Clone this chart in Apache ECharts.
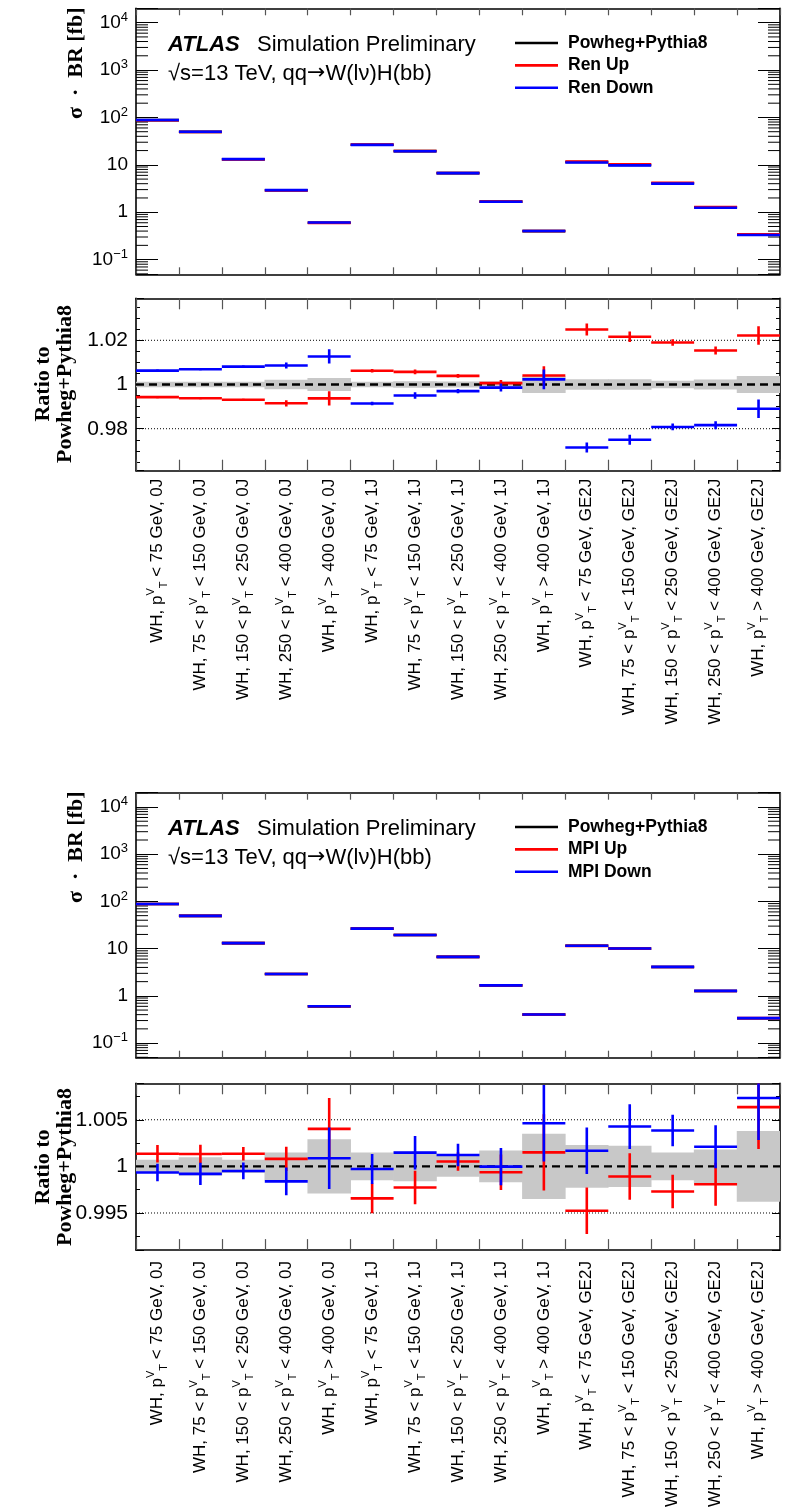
<!DOCTYPE html>
<html><head><meta charset="utf-8">
<script src="https://cdn.jsdelivr.net/npm/echarts@6/dist/echarts.min.js"></script>
<style>html,body{margin:0;padding:0;background:#fff}#c{width:792px;height:1510px}</style>
</head><body><div id="c"></div><script>
// ---------------- data ----------------
const categories = [
  'WH, p_T^V < 75 GeV, 0J', 'WH, 75 < p_T^V < 150 GeV, 0J', 'WH, 150 < p_T^V < 250 GeV, 0J', 'WH, 250 < p_T^V < 400 GeV, 0J', 'WH, p_T^V > 400 GeV, 0J',
  'WH, p_T^V < 75 GeV, 1J', 'WH, 75 < p_T^V < 150 GeV, 1J', 'WH, 150 < p_T^V < 250 GeV, 1J', 'WH, 250 < p_T^V < 400 GeV, 1J', 'WH, p_T^V > 400 GeV, 1J',
  'WH, p_T^V < 75 GeV, GE2J', 'WH, 75 < p_T^V < 150 GeV, GE2J', 'WH, 150 < p_T^V < 250 GeV, GE2J', 'WH, 250 < p_T^V < 400 GeV, GE2J', 'WH, p_T^V > 400 GeV, GE2J'
];
// nominal sigma x BR [fb]
const nominal = [88, 49.5, 13.1, 2.9, 0.6, 26.6, 19.5, 6.7, 1.67, 0.4, 11.5, 10.0, 4.1, 1.27, 0.335];

// panel 1: renormalisation scale variations (ratio to nominal)
const renUpRatio   = [0.9943, 0.9938, 0.9931, 0.9915, 0.9937, 1.0062, 1.0057, 1.0039, 1.0006, 1.0041, 1.0249, 1.0216, 1.0190, 1.0154, 1.0222];
const renUpErr     = [0.0005, 0.0005, 0.0004, 0.0014, 0.0032, 0.0008, 0.0011, 0.0008, 0.0014, 0.0042, 0.0027, 0.0024, 0.0015, 0.0018, 0.0042];
const renDownRatio = [1.0063, 1.0069, 1.0081, 1.0086, 1.0127, 0.9914, 0.9950, 0.9970, 0.9986, 1.0023, 0.9715, 0.9750, 0.9808, 0.9816, 0.9890];
const renDownErr   = [0.0005, 0.0005, 0.0005, 0.0014, 0.0032, 0.0008, 0.0015, 0.0010, 0.0018, 0.0045, 0.0023, 0.0023, 0.0015, 0.0018, 0.0042];
const nomStat1     = [0.0012, 0.0012, 0.0012, 0.0021, 0.0029, 0.0012, 0.0015, 0.0014, 0.0015, 0.0038, 0.0024, 0.0024, 0.0017, 0.0023, 0.0039];

// panel 2: MPI variations (ratio to nominal)
const mpiUpRatio   = [1.00136, 1.00133, 1.00136, 1.0008, 1.00402, 0.99657, 0.99773, 1.00052, 0.99937, 1.0015, 0.99524, 0.99892, 0.99731, 0.99808, 1.00636];
const mpiUpErr     = [0.00094, 0.0010, 0.00073, 0.0013, 0.0033, 0.0016, 0.0018, 0.0010, 0.0019, 0.0041, 0.0025, 0.0025, 0.0018, 0.0023, 0.0045];
const mpiDownRatio = [0.99934, 0.9992, 0.99951, 0.99839, 1.00087, 0.99972, 1.00147, 1.00122, 0.99997, 1.00462, 1.00168, 1.00427, 1.00385, 1.0021, 1.00734];
const mpiDownErr   = [0.00093, 0.0012, 0.0009, 0.0015, 0.0033, 0.0016, 0.0018, 0.0012, 0.0020, 0.0041, 0.0025, 0.0024, 0.0017, 0.0023, 0.0045];
const nomStat2     = [0.0007, 0.00098, 0.0007, 0.0015, 0.0029, 0.0015, 0.0016, 0.0011, 0.0017, 0.0035, 0.0023, 0.0022, 0.0015, 0.0018, 0.0038];

// axis ticks / labels
const logMajorTicks = [0.1, 1, 10, 100, 1000, 10000];
const logMajorLabels = ['10{sup|\u22121}', '1', '10', '10{sup|2}', '10{sup|3}', '10{sup|4}'];
const ratio1Ticks = [0.98, 1, 1.02];
const ratio1Labels = ['0.98', '1', '1.02'];
const ratio2Ticks = [0.995, 1, 1.005];
const ratio2Labels = ['0.995', '1', '1.005'];
const ratio1Dotted = [0.98, 1.02];
const ratio2Dotted = [0.995, 1.005];

// ---------------- layout ----------------
const LOG_MIN = 0.049, LOG_MAX = 20100;
const R1_MIN = 0.961, R1_MAX = 1.039;
const R2_MIN = 0.99102, R2_MAX = 1.00891;
const SANS = '"Liberation Sans", Arial, Helvetica, sans-serif';
const SERIF = '"Liberation Serif", "Times New Roman", serif';
const RED = '#ff0000', BLUE = '#0000ff';

const grids = [
  {left: 136, top: 8.3, width: 644, height: 266},
  {left: 136, top: 298.3, width: 644, height: 172.4},
  {left: 136, top: 792.7, width: 644, height: 265},
  {left: 136, top: 1083.3, width: 644, height: 170.7}
];

function catLabel(s) {
  const parts = s.split('p_T^V');
  return parts.map(p => p ? '{b|' + p + '}' : '').join('{b|p}{sup|V}{sub|T}');
}
const catRich = {
  b: {fontSize: 17, fontFamily: SANS, color: '#000', lineHeight: 24, verticalAlign: 'middle'},
  sup: {fontSize: 11, fontFamily: SANS, color: '#000', verticalAlign: 'top'},
  sub: {fontSize: 11, fontFamily: SANS, color: '#000', verticalAlign: 'bottom'}
};

function xAx(grid, pos, tickLen, withLabels, margin) {
  return {
    type: 'category', gridIndex: grid, position: pos, data: categories, boundaryGap: true,
    axisLine: {show: true, onZero: false, lineStyle: {color: '#000', width: 1.6}},
    axisTick: {show: true, inside: true, length: tickLen, interval: 0, lineStyle: {color: '#555', width: 1.2}},
    axisLabel: withLabels ? {show: true, interval: 0, rotate: 90, margin: margin, formatter: catLabel, rich: catRich} : {show: false},
    splitLine: {show: false}
  };
}
function fmtFrom(ticks, labels) {
  return function (v) {
    for (let i = 0; i < ticks.length; i++) {
      if (Math.abs(v - ticks[i]) < Math.abs(ticks[i]) * 1e-6 + 1e-9) return labels[i];
    }
    return '';
  };
}
function logFmt(v) {
  const lg = Math.log10(v);
  for (let i = 0; i < logMajorTicks.length; i++) {
    if (Math.abs(lg - Math.log10(logMajorTicks[i])) < 1e-3) return logMajorLabels[i].replace(/^([^{]+)/, '{b|$1}');
  }
  return '';
}
function logY(grid, pos) {
  return {
    type: 'log', logBase: 10, gridIndex: grid, position: pos, min: LOG_MIN, max: LOG_MAX,
    axisLine: {show: true, onZero: false, lineStyle: {color: '#000', width: 1.6}},
    axisTick: {show: true, inside: true, length: 22, lineStyle: {color: '#000', width: 1}},
    minorTick: {show: false}, splitLine: {show: false},
    axisLabel: pos === 'left' ? {
      show: true, margin: 8, formatter: logFmt,
      rich: {
        b: {fontSize: 19, fontFamily: SANS, color: '#000', lineHeight: 24, verticalAlign: 'middle'},
        sup: {fontSize: 13, fontFamily: SANS, color: '#000', verticalAlign: 'top'}
      }
    } : {show: false}
  };
}
function ratioY(grid, pos, min, max, minorSplit, ticks, labels) {
  return {
    type: 'value', gridIndex: grid, position: pos, min: min, max: max, splitNumber: 4, scale: true,
    axisLine: {show: true, onZero: false, lineStyle: {color: '#000', width: 1.6}},
    axisTick: {show: true, inside: true, length: 8, lineStyle: {color: '#000', width: 1}},
    minorTick: {show: true, splitNumber: minorSplit, length: 4, lineStyle: {color: '#000', width: 1}},
    splitLine: {show: false}, minorSplitLine: {show: false},
    axisLabel: pos === 'left' ? {show: true, margin: 8, formatter: fmtFrom(ticks, labels), fontSize: 21, fontFamily: SANS, color: '#000'} : {show: false}
  };
}

// ---------------- render helpers ----------------
function clampY(y, cs) { return Math.max(cs.y, Math.min(cs.y + cs.height, y)); }
function crossRender(color, lw) {
  return function (params, api) {
    const cs = params.coordSys;
    const i = api.value(0), v = api.value(1), e = api.value(2);
    const c = api.coord([i, v]);
    const w = api.size([1, 0])[0];
    const children = [];
    if (c[1] >= cs.y - 1 && c[1] <= cs.y + cs.height + 1) {
      children.push({type: 'line', shape: {x1: c[0] - w / 2, y1: c[1], x2: c[0] + w / 2, y2: c[1]}, style: {stroke: color, lineWidth: lw}});
    }
    if (e > 0) {
      const t = clampY(api.coord([i, v + e])[1], cs), b = clampY(api.coord([i, v - e])[1], cs);
      children.push({type: 'line', shape: {x1: c[0], y1: t, x2: c[0], y2: b}, style: {stroke: color, lineWidth: lw}});
    }
    return {type: 'group', children: children};
  };
}
function bandRender(params, api) {
  const cs = params.coordSys;
  const i = api.value(0), v = api.value(1), e = api.value(2);
  const c = api.coord([i, v]);
  const w = api.size([1, 0])[0];
  const t = clampY(api.coord([i, v + e])[1], cs), b = clampY(api.coord([i, v - e])[1], cs);
  return {type: 'rect', shape: {x: c[0] - w / 2 - 0.3, y: t, width: w + 0.6, height: b - t}, style: {fill: '#c8c8c8'}};
}
function refLineRender(dash, lw) {
  return function (params, api) {
    const cs = params.coordSys;
    const y = api.coord([0, api.value(1)])[1];
    return {type: 'line', shape: {x1: cs.x, y1: y, x2: cs.x + cs.width, y2: y}, style: {stroke: '#000', lineWidth: lw, lineDash: dash}};
  };
}
function minorLogRender(params, api) {
  const cs = params.coordSys;
  const y = api.coord([0, api.value(1)])[1];
  return {type: 'group', children: [
    {type: 'line', shape: {x1: cs.x, y1: y, x2: cs.x + 12, y2: y}, style: {stroke: '#000', lineWidth: 1}},
    {type: 'line', shape: {x1: cs.x + cs.width - 12, y1: y, x2: cs.x + cs.width, y2: y}, style: {stroke: '#000', lineWidth: 1}}
  ]};
}
// minor log ticks (2..9 x decade) inside axis range
const minorLogTicks = [];
for (let d = -2; d <= 4; d++) for (let k = 2; k <= 9; k++) {
  const v = k * Math.pow(10, d);
  if (v > LOG_MIN && v < LOG_MAX) minorLogTicks.push([0, v]);
}

function rows(vals, errs) { return vals.map((v, i) => [i, v, errs ? errs[i] : 0]); }
function scaled(ratios) { return nominal.map((v, i) => [i, v * ratios[i], 0]); }

function custom(name, xi, yi, data, render, z, color) {
  return {type: 'custom', name: name, xAxisIndex: xi, yAxisIndex: yi, data: data, renderItem: render,
    z: z, silent: true, clip: true, animation: false, itemStyle: {color: color || '#000'},
    encode: {x: 0, y: 1}};
}

const series = [
  // main panel 1
  custom('minorTicks1', 0, 0, minorLogTicks, minorLogRender, 1),
  custom('Powheg+Pythia8', 0, 0, rows(nominal), crossRender('#000', 2.6), 3, '#000'),
  custom('Ren Up', 0, 0, scaled(renUpRatio), crossRender(RED, 2.6), 4, RED),
  custom('Ren Down', 0, 0, scaled(renDownRatio), crossRender(BLUE, 2.6), 5, BLUE),
  // ratio panel 1
  custom('band1', 2, 2, rows(nominal.map(() => 1), nomStat1), bandRender, 1),
  custom('dotted1', 2, 2, ratio1Dotted.map(v => [0, v]), refLineRender([1, 2], 1), 2),
  custom('dashed1', 2, 2, [[0, 1]], refLineRender([8, 5], 2.4), 3),
  custom('Ren Up', 2, 2, rows(renUpRatio, renUpErr), crossRender(RED, 2.6), 4, RED),
  custom('Ren Down', 2, 2, rows(renDownRatio, renDownErr), crossRender(BLUE, 2.6), 5, BLUE),
  // main panel 2
  custom('minorTicks2', 4, 4, minorLogTicks, minorLogRender, 1),
  custom('Powheg+Pythia8', 4, 4, rows(nominal), crossRender('#000', 2.6), 3, '#000'),
  custom('MPI Up', 4, 4, scaled(mpiUpRatio), crossRender(RED, 2.6), 4, RED),
  custom('MPI Down', 4, 4, scaled(mpiDownRatio), crossRender(BLUE, 2.6), 5, BLUE),
  // ratio panel 2
  custom('band2', 6, 6, rows(nominal.map(() => 1), nomStat2), bandRender, 1),
  custom('dotted2', 6, 6, ratio2Dotted.map(v => [0, v]), refLineRender([1, 2], 1), 2),
  custom('dashed2', 6, 6, [[0, 1]], refLineRender([8, 5], 2.4), 3),
  custom('MPI Up', 6, 6, rows(mpiUpRatio, mpiUpErr), crossRender(RED, 2.6), 4, RED),
  custom('MPI Down', 6, 6, rows(mpiDownRatio, mpiDownErr), crossRender(BLUE, 2.6), 5, BLUE)
];

function legendAt(top, names) {
  return {
    left: 515, top: top, orient: 'vertical', icon: 'rect', itemWidth: 43, itemHeight: 2.6, itemGap: 2.4, padding: 0,
    selectedMode: false, data: names,
    textStyle: {fontFamily: SANS, fontWeight: 'bold', fontSize: 17.5, color: '#000', lineHeight: 20, padding: [0, 0, 0, 5]}
  };
}

function textEl(x, y, text, font, extra) {
  return Object.assign({type: 'text', x: x, y: y, silent: true,
    style: Object.assign({text: text, font: font, fill: '#000', verticalAlign: 'middle'}, (extra || {}))});
}
const graphic = [];
[0, 784].forEach(function (off) {
  graphic.push(textEl(168, 45 + off, 'ATLAS', 'italic bold 22px ' + SANS));
  graphic.push(textEl(257, 45 + off, 'Simulation Preliminary', '22px ' + SANS));
  graphic.push({type: 'text', x: 168, y: 73.5 + off, silent: true,
    style: {text: '{t|\u221As=13 TeV, qq}{a|\u2192}{t|W(l\u03BD)H(bb)}', fill: '#000', verticalAlign: 'middle',
      rich: {t: {fontSize: 22, fontFamily: SANS, fill: '#000'}, a: {fontSize: 22, fontFamily: '"DejaVu Sans", sans-serif', fill: '#000'}}}});
  graphic.push({type: 'text', x: 76, y: 7.5 + off, rotation: Math.PI / 2, silent: true,
    style: {text: '\u03C3  \u00B7  BR [fb]', font: 'bold 22px ' + SERIF, fill: '#000', align: 'right', verticalAlign: 'middle'}});
});
graphic.push({type: 'text', x: 54, y: 384, rotation: Math.PI / 2, silent: true,
  style: {text: 'Ratio to\nPowheg+Pythia8', font: 'bold 22px ' + SERIF, fill: '#000', align: 'center', verticalAlign: 'middle', lineHeight: 22}});
graphic.push({type: 'text', x: 54, y: 1167, rotation: Math.PI / 2, silent: true,
  style: {text: 'Ratio to\nPowheg+Pythia8', font: 'bold 22px ' + SERIF, fill: '#000', align: 'center', verticalAlign: 'middle', lineHeight: 22}});

const option = {
  animation: false,
  backgroundColor: '#fff',
  grid: grids,
  xAxis: [
    xAx(0, 'bottom', 7, false), xAx(0, 'top', 7, false),
    xAx(1, 'bottom', 11, true, 8), xAx(1, 'top', 11, false),
    xAx(2, 'bottom', 7, false), xAx(2, 'top', 7, false),
    xAx(3, 'bottom', 11, true, 11), xAx(3, 'top', 11, false)
  ],
  yAxis: [
    logY(0, 'left'), logY(0, 'right'),
    ratioY(1, 'left', R1_MIN, R1_MAX, 4, ratio1Ticks, ratio1Labels), ratioY(1, 'right', R1_MIN, R1_MAX, 4, ratio1Ticks, ratio1Labels),
    logY(2, 'left'), logY(2, 'right'),
    ratioY(3, 'left', R2_MIN, R2_MAX, 2, ratio2Ticks, ratio2Labels), ratioY(3, 'right', R2_MIN, R2_MAX, 2, ratio2Ticks, ratio2Labels)
  ],
  legend: [
    legendAt(33, ['Powheg+Pythia8', 'Ren Up', 'Ren Down']),
    legendAt(817, ['Powheg+Pythia8', 'MPI Up', 'MPI Down'])
  ],
  graphic: graphic,
  series: series
};
const chart = echarts.init(document.getElementById('c'), null, {renderer: 'canvas'});
chart.setOption(option);
</script></body></html>
